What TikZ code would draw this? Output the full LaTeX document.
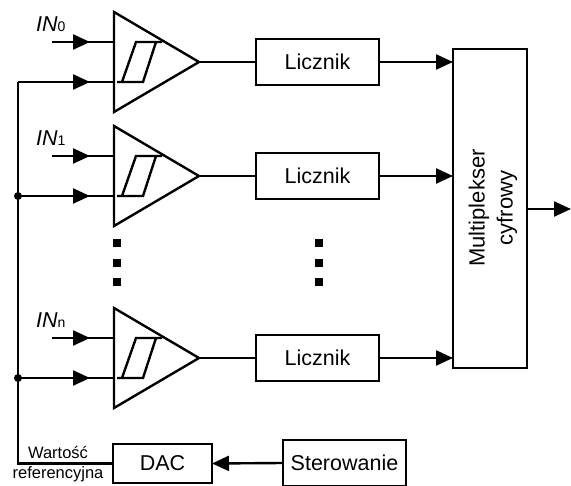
\documentclass[tikz,border=0pt]{standalone}
\usepackage{fontspec}
\setmainfont{Liberation Sans}
\usetikzlibrary{shapes.geometric, arrows.meta, positioning, calc}

\tikzset{
  wire/.style={line width=2.4pt},
  arrowwire/.style={wire, -{Triangle[length=17pt,width=15pt]}},
  blockbox/.style={draw, line width=2.4pt, minimum width=123pt, minimum height=46pt, inner sep=0pt, outer sep=0pt, font=\fontsize{21.5}{24}\selectfont},
  comparator/.style={draw, line width=2.4pt, isosceles triangle, isosceles triangle stretches, minimum width=100pt, minimum height=85pt, inner sep=0pt, outer sep=0pt, anchor=apex},
  junction/.style={circle, fill, inner sep=0pt, minimum size=8pt},
  dotmark/.style={fill, inner sep=0pt, minimum size=8pt},
  inlabel/.style={font=\fontsize{21.5}{24}\selectfont\itshape, inner sep=0pt, anchor=base west}
}

\begin{document}
\begin{tikzpicture}[x=1pt, y=-1pt]
  \useasboundingbox (0,0) rectangle (571,486);

  % multiplexer and bottom row
  \node[draw, line width=2.4pt, minimum width=74pt, minimum height=319pt, inner sep=0pt, outer sep=0pt] (mux) at (490,208.5) {};
  \node[rotate=90, align=center, font=\fontsize{22}{28}\selectfont] (muxtext) at (493,208) {Multiplekser\\cyfrowy};
  \node[blockbox, minimum width=99pt, minimum height=39pt] (dac) at (162.5,463.5) {DAC};
  \node[blockbox, minimum height=46pt, anchor=west] (ster) at (283,463) {Sterowanie};
  \coordinate (bus) at (18,463.5);
  \coordinate (out) at (571,209);

  % one channel per row: index, top of triangle, label
  \foreach \i/\y/\lab in {0/12/0, 1/126/1, 2/308/n} {
    \node[comparator] (cmp\i) at (199,\y+50) {};
    \node[blockbox, right=57pt of cmp\i.apex] (cnt\i) {Licznik};
    \node[inlabel] (in\i) at (36,\y+20) {IN{\fontsize{14}{14}\selectfont\upshape\lab}};
    \coordinate (a\i) at (52,\y+30);
    \coordinate (p\i) at (114,\y+30);
    \coordinate (q\i) at (114,\y+70);
    \coordinate (b\i) at (bus |- q\i);
    % inputs
    \draw[arrowwire] (a\i) -- (90,\y+30);
    \draw[wire] (a\i) -- (p\i);
    \draw[arrowwire] (b\i) -- (90,\y+70);
    \draw[wire] (b\i) -- (q\i);
    % hysteresis symbol
    \draw[wire] (122,\y+70) -- (136,\y+30) -- (162,\y+30) (156,\y+30) -- (143,\y+70) -- (117,\y+70);
    % outputs
    \draw[wire] (cmp\i.apex) -- (cnt\i.west);
    \draw[arrowwire] (cnt\i.east) -- (cnt\i.east -| mux.west);
  }

  % common reference line
  \draw[wire] (b0) -- (bus) -- (dac.west);
  \node[junction] (j1) at (b1) {};
  \node[junction] (j2) at (b2) {};
  \node[inner sep=0pt, font=\fontsize{16.5}{18}\selectfont] (wart) at (58,453) {Warto\'s\'c};
  \node[inner sep=0pt, font=\fontsize{16.5}{18}\selectfont] (ref) at (58,474) {referencyjna};
  \draw[arrowwire] (ster.west) -- (dac.east);
  \draw[arrowwire] (mux.east |- out) -- (out);

  % dots between rows
  \foreach \x in {117,319}
    \foreach \y in {243,263,282}
      \node[dotmark] at (\x,\y) {};
\end{tikzpicture}
\end{document}
